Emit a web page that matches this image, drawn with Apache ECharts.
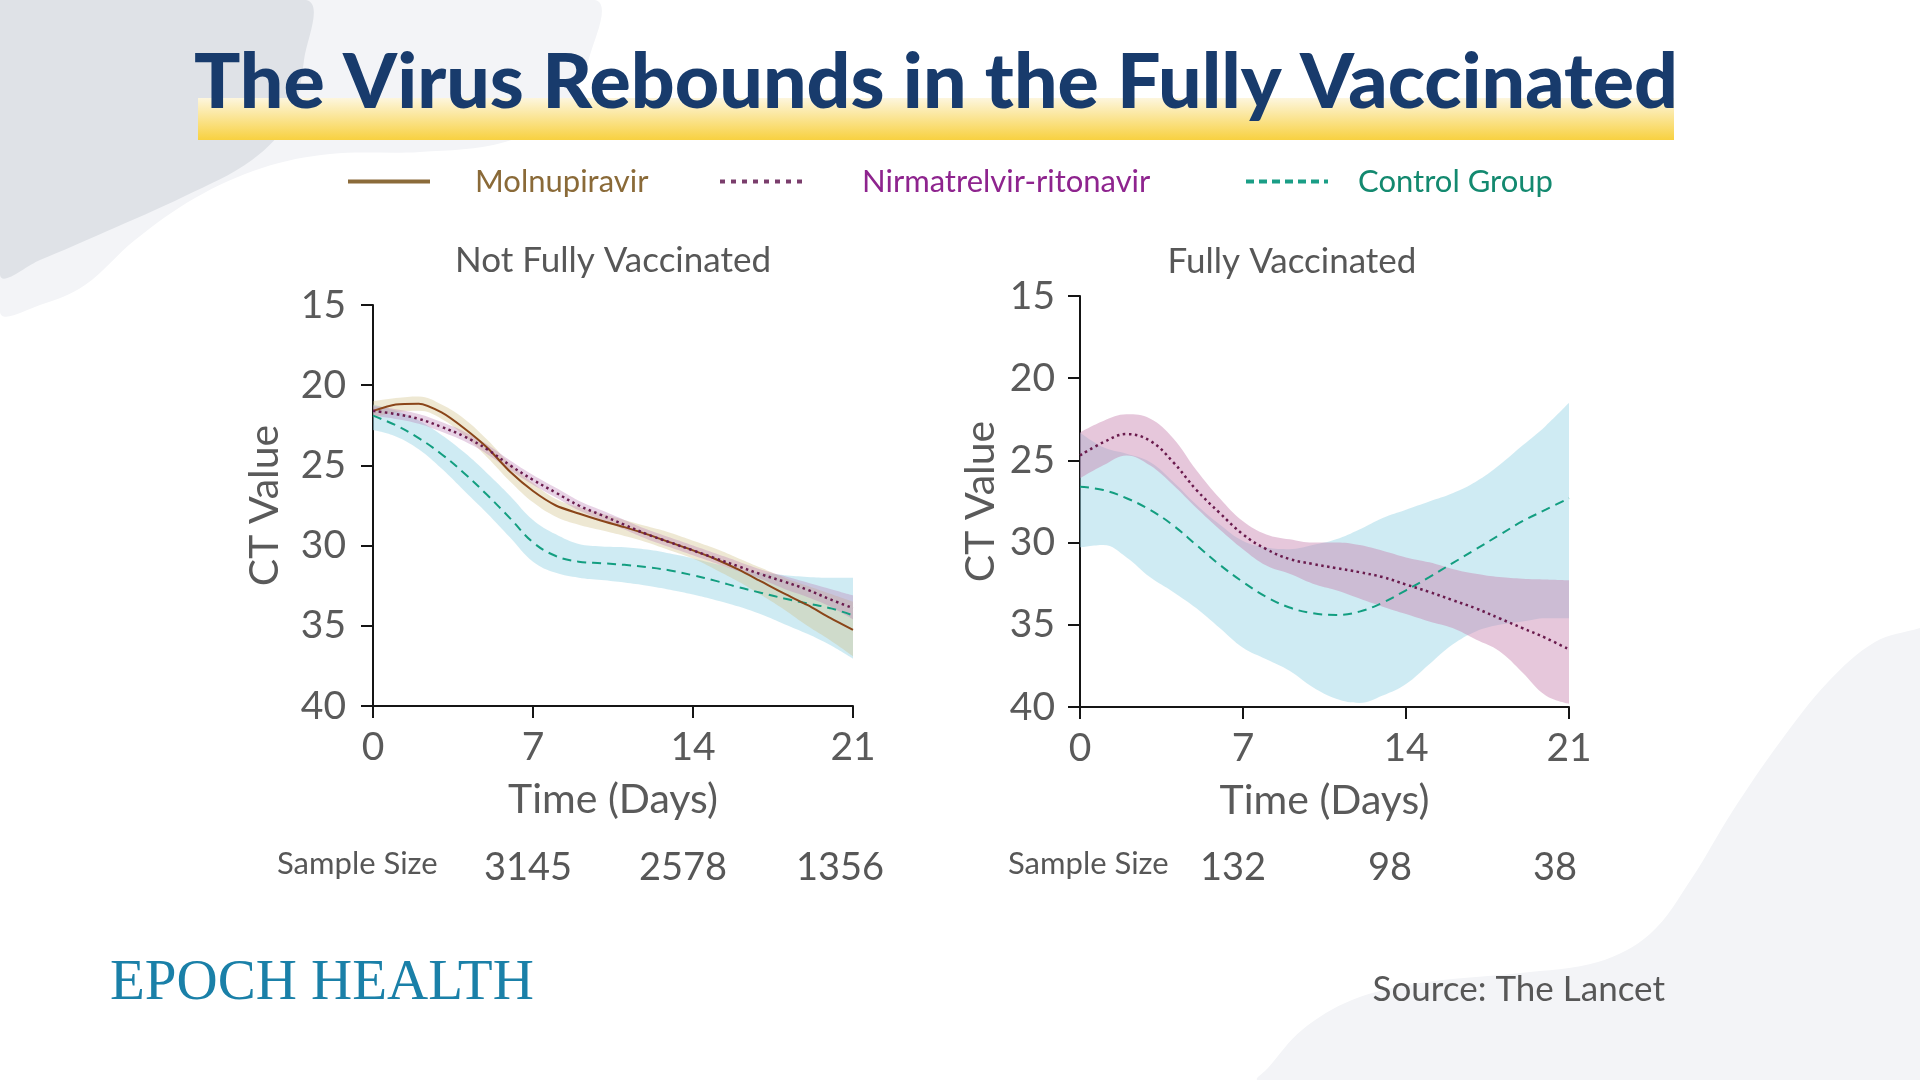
<!DOCTYPE html>
<html>
<head>
<meta charset="utf-8">
<script src="https://cdn.jsdelivr.net/npm/echarts@6/dist/echarts.min.js"></script>
<style>html,body{margin:0;padding:0;background:#fff}#c{width:1920px;height:1080px}</style>
</head>
<body>
<div id="c"></div>
<script>
// ---------- DATA ----------
const days = ['0','1','2','3','4','5','6','7','8','9','10','11','12','13','14','15','16','17','18','19','20','21'];

// Not Fully Vaccinated
const nfMolnupiravir     = [21.6,21.2,21.15,21.7,22.7,23.9,25.4,26.6,27.5,28.0,28.45,28.85,29.3,29.8,30.3,30.85,31.5,32.25,33.0,33.7,34.5,35.25];
const nfMolnupiravirLow  = [21.0,20.8,20.7,21.2,22.1,23.4,24.9,26.1,27.1,27.6,28.0,28.4,28.8,29.2,29.7,30.2,30.8,31.4,32.0,32.5,33.0,33.5];
const nfMolnupiravirHigh = [22.0,21.7,21.6,22.1,23.15,24.5,26.0,27.3,28.2,28.7,29.05,29.4,29.8,30.3,30.8,31.5,32.25,33.1,34.0,35.0,35.9,36.9];
const nfNirmatrelvir     = [21.6,21.8,22.1,22.6,23.2,24.0,25.0,25.9,26.7,27.5,28.1,28.7,29.3,29.8,30.3,30.8,31.3,31.8,32.25,32.75,33.35,33.9];
const nfNirmatrelvirLow  = [21.3,21.5,21.8,22.3,22.9,23.7,24.7,25.6,26.4,27.2,27.8,28.4,29.0,29.5,30.0,30.5,31.0,31.5,31.9,32.3,32.7,33.1];
const nfNirmatrelvirHigh = [21.9,22.1,22.4,22.9,23.5,24.3,25.3,26.2,27.0,27.8,28.4,29.0,29.6,30.1,30.6,31.1,31.6,32.1,32.7,33.2,33.8,34.6];
const nfControl          = [21.9,22.5,23.3,24.3,25.5,26.85,28.3,29.8,30.65,31.0,31.1,31.2,31.35,31.55,31.85,32.2,32.6,32.95,33.3,33.6,33.9,34.35];
const nfControlLow       = [21.2,21.6,22.2,23.1,24.2,25.5,26.9,28.4,29.3,29.9,30.05,30.1,30.25,30.5,30.8,31.15,31.5,31.7,31.85,31.95,32.0,32.0];
const nfControlHigh      = [22.8,23.2,24.0,25.2,26.6,28.0,29.5,31.0,31.7,32.0,32.15,32.3,32.5,32.75,33.05,33.4,33.8,34.3,34.9,35.5,36.2,37.05];

// Fully Vaccinated
const fvNirmatrelvir     = [24.7,23.9,23.4,23.8,25.1,26.8,28.2,29.5,30.4,31.0,31.3,31.55,31.8,32.1,32.55,33.0,33.5,34.0,34.6,35.2,35.8,36.5];
const fvNirmatrelvirLow  = [23.3,22.6,22.2,22.45,23.65,25.6,27.3,28.7,29.5,29.8,30.0,30.0,30.15,30.5,30.9,31.2,31.6,31.9,32.1,32.2,32.25,32.3];
const fvNirmatrelvirHigh = [26.1,25.3,24.7,25.3,26.5,27.9,29.2,30.4,31.4,31.9,32.5,32.9,33.4,33.9,34.35,34.8,35.2,35.9,36.6,37.9,39.3,39.8];
const fvControl          = [26.6,26.8,27.3,28.0,28.95,30.15,31.35,32.4,33.3,33.95,34.3,34.4,34.2,33.65,32.9,32.1,31.25,30.4,29.55,28.7,28.0,27.3];
const fvControlLow       = [23.3,24.2,24.6,25.1,26.3,27.7,28.9,29.9,30.3,30.4,30.15,29.8,29.2,28.5,28.0,27.5,27.0,26.3,25.3,24.1,22.9,21.5];
const fvControlHigh      = [30.3,30.15,30.9,32.1,33.0,34.0,35.2,36.4,37.1,37.8,38.8,39.5,39.75,39.3,38.6,37.4,36.2,35.4,35.0,34.8,34.6,34.6];

// Sample sizes
const sampleSizeNotFully = [3145, 2578, 1356];
const sampleSizeFully    = [132, 98, 38];

// Text
const mainTitle = 'The Virus Rebounds in the Fully Vaccinated';
const panelTitles = ['Not Fully Vaccinated', 'Fully Vaccinated'];
const seriesNames = ['Molnupiravir', 'Nirmatrelvir-ritonavir', 'Control Group'];

// ---------- LAYOUT / STYLE ----------
const FONT = 'Lato';
const GREY = '#5a5a5a';
const grids = [
  {left: 373, top: 305, width: 480, height: 401},
  {left: 1080, top: 296, width: 489, height: 411}
];
const sampleX = [[528, 683, 840], [1233, 1390, 1555]];
const sampleLabelX = [277, 1008];

function diff(hi, lo) { return hi.map((v, i) => +(v - lo[i]).toFixed(3)); }

function band(key, lo, hi, color, gi) {
  return [
    {type: 'line', name: key + ' base', xAxisIndex: gi, yAxisIndex: gi, stack: key, data: lo,
     symbol: 'none', smooth: 0.4, lineStyle: {opacity: 0, width: 0}, silent: true, z: 1},
    {type: 'line', name: key + ' band', xAxisIndex: gi, yAxisIndex: gi, stack: key, data: diff(hi, lo),
     symbol: 'none', smooth: 0.4, lineStyle: {opacity: 0, width: 0}, areaStyle: {color: color, opacity: 1}, silent: true, z: 1}
  ];
}
function line(name, arr, color, type, width, gi, smooth) {
  return {type: 'line', name: name, xAxisIndex: gi, yAxisIndex: gi, data: arr, symbol: 'none',
          smooth: smooth, lineStyle: {color: color, type: type, width: width}, itemStyle: {color: color}, z: 5, silent: true};
}

const C_BLUE = 'rgba(160,215,232,0.5)';
const C_KHAKI = 'rgba(205,190,130,0.35)';
const C_LAV = 'rgba(185,125,180,0.35)';
const C_PINK = 'rgba(200,130,175,0.45)';
const L_MOL = '#8a4519';
const L_NIR = '#6a1b4d';
const L_CTL = '#139e80';

const series = [].concat(
  band('nfCtl', nfControlLow, nfControlHigh, C_BLUE, 0),
  band('nfMol', nfMolnupiravirLow, nfMolnupiravirHigh, C_KHAKI, 0),
  band('nfNir', nfNirmatrelvirLow, nfNirmatrelvirHigh, C_LAV, 0),
  [line(seriesNames[2], nfControl, L_CTL, [9, 6], 2, 0, 0.4),
   line(seriesNames[0], nfMolnupiravir, L_MOL, 'solid', 2, 0, 0.25),
   line(seriesNames[1], nfNirmatrelvir, L_NIR, [2.5, 3.5], 2.5, 0, 0.4)],
  band('fvCtl', fvControlLow, fvControlHigh, C_BLUE, 1),
  band('fvNir', fvNirmatrelvirLow, fvNirmatrelvirHigh, C_PINK, 1),
  [line(seriesNames[2], fvControl, L_CTL, [9, 6], 2, 1, 0.4),
   line(seriesNames[1], fvNirmatrelvir, L_NIR, [2.5, 3.5], 2.5, 1, 0.4)]
);

function xAxis(gi) {
  return {type: 'category', gridIndex: gi, data: days, boundaryGap: false,
    axisLine: {show: true, onZero: false, lineStyle: {color: '#151515', width: 2}},
    axisTick: {show: true, length: 12, interval: 6, lineStyle: {color: '#151515', width: 2}},
    axisLabel: {fontFamily: FONT, fontSize: 39, color: GREY, margin: 22, interval: 6},
    splitLine: {show: false},
    name: 'Time (Days)', nameLocation: 'middle', nameGap: 73,
    nameTextStyle: {fontFamily: FONT, fontSize: 41, color: GREY}};
}
function yAxis(gi, margin, nameGap) {
  return {type: 'value', gridIndex: gi, min: 15, max: 40, interval: 5, inverse: true,
    axisLine: {show: true, onZero: false, lineStyle: {color: '#151515', width: 2}},
    axisTick: {show: true, length: 12, lineStyle: {color: '#151515', width: 2}},
    axisLabel: {fontFamily: FONT, fontSize: 39, color: GREY, margin: margin},
    splitLine: {show: false},
    name: 'CT Value', nameLocation: 'middle', nameRotate: 90, nameGap: nameGap,
    nameTextStyle: {fontFamily: FONT, fontSize: 41, color: GREY}};
}

function legendItem(name, left, lineColor, lineType, textColor, pad) {
  return {
    show: true, selectedMode: false, left: left, top: 166, padding: 0,
    itemWidth: 82, itemHeight: 14,
    formatter: '{t|{name}}',
    textStyle: {fontFamily: FONT, fontSize: 31, color: textColor,
      rich: {t: {fontFamily: FONT, fontSize: 31, color: textColor, lineHeight: 36, padding: [0, 0, 0, pad]}}},
    data: [{name: name, lineStyle: {color: lineColor, width: 4, type: lineType, opacity: 1},
            itemStyle: {color: 'rgba(0,0,0,0)', borderWidth: 0, borderColor: 'rgba(0,0,0,0)'}}]
  };
}

const graphics = [
  // background decorations
  {type: 'polygon', z: -10, silent: true, shape: {smooth: 0.35, points: [[0,0],[594,0],[590,55],[562,110],[505,142],[420,152],[330,154],[262,168],[195,198],[135,240],[85,285],[40,305],[0,312],[0,0]]}, style: {fill: '#f3f4f7'}},
  {type: 'polygon', z: -9, silent: true, shape: {smooth: 0.35, points: [[0,0],[306,0],[304,60],[290,118],[252,160],[185,196],[105,232],[40,260],[0,275],[0,0]]}, style: {fill: '#dfe2e7'}},
  {type: 'polygon', z: -10, silent: true, shape: {smooth: 0.35, points: [[1920,628],[1875,642],[1828,682],[1780,742],[1732,812],[1692,878],[1650,934],[1598,962],[1520,973],[1420,983],[1352,1000],[1302,1030],[1268,1068],[1258,1080],[1920,1080],[1920,628]]}, style: {fill: '#f3f4f7'}},
  // title highlight bar
  {type: 'rect', z: 1, silent: true, shape: {x: 198, y: 98, width: 1476, height: 42},
   style: {fill: new echarts.graphic.LinearGradient(0, 0, 0, 1, [{offset: 0, color: '#fdf6de'}, {offset: 1, color: '#f8d140'}])}},
  {type: 'text', z: 20, x: 936, y: 83, style: {text: mainTitle, fontFamily: FONT, fontWeight: 900, fontSize: 77, fill: '#183b6c', align: 'center', verticalAlign: 'middle'}},
  // panel titles
  {type: 'text', z: 20, x: 613, y: 261, style: {text: panelTitles[0], fontFamily: FONT, fontSize: 35, fill: '#575757', align: 'center', verticalAlign: 'middle'}},
  {type: 'text', z: 20, x: 1292, y: 262, style: {text: panelTitles[1], fontFamily: FONT, fontSize: 35, fill: '#575757', align: 'center', verticalAlign: 'middle'}},
  // footer
  {type: 'text', z: 20, x: 110, y: 984, style: {text: 'EPOCH HEALTH', fontFamily: 'Liberation Serif', fontSize: 57, fill: '#1a80a8', align: 'left', verticalAlign: 'middle'}},
  {type: 'text', z: 20, x: 1665, y: 990, style: {text: 'Source: The Lancet', fontFamily: FONT, fontSize: 35, fill: '#575757', align: 'right', verticalAlign: 'middle'}}
];
[sampleSizeNotFully, sampleSizeFully].forEach((arr, gi) => {
  graphics.push({type: 'text', z: 20, x: sampleLabelX[gi], y: 864, style: {text: 'Sample Size', fontFamily: FONT, fontSize: 31, fill: '#575757', align: 'left', verticalAlign: 'middle'}});
  arr.forEach((v, i) => {
    graphics.push({type: 'text', z: 20, x: sampleX[gi][i], y: 868, style: {text: String(v), fontFamily: FONT, fontSize: 38, fill: '#575757', align: 'center', verticalAlign: 'middle'}});
  });
});

const chart = echarts.init(document.getElementById('c'), null, {renderer: 'canvas', width: 1920, height: 1080});
chart.setOption({
  backgroundColor: '#ffffff',
  animation: false,
  textStyle: {fontFamily: FONT},
  grid: grids.map(g => Object.assign({outerBoundsMode: 'none', containLabel: false}, g)),
  xAxis: [xAxis(0), xAxis(1)],
  yAxis: [yAxis(0, 27, 88), yAxis(1, 25, 79)],
  legend: [
    legendItem(seriesNames[0], 346, '#8b6b3a', 'solid', '#8a6a38', 40),
    legendItem(seriesNames[1], 718, '#7a3d6c', [5, 6], '#8e248e', 55),
    legendItem(seriesNames[2], 1244, '#1a9e86', [8, 5], '#13896f', 25)
  ],
  series: series,
  graphic: graphics
});
</script>
</body>
</html>
